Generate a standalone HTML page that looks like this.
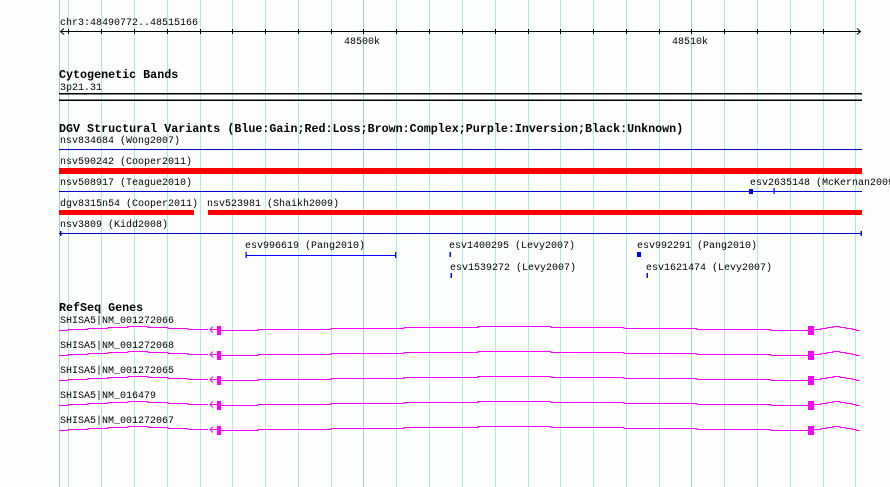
<!DOCTYPE html>
<html><head><meta charset="utf-8"><style>
html,body{margin:0;padding:0;background:#fcfffc;}
svg{display:block;}
text{font-family:"Liberation Mono",monospace;font-size:10px;fill:#000;}
.b{font-weight:bold;font-size:11.7px;}
</style></head><body>
<svg width="890" height="487" xmlns="http://www.w3.org/2000/svg">
<rect width="890" height="487" fill="#fcfffc"/>
<g stroke="#aee8ee" stroke-width="1">
<line x1="68.5" y1="0" x2="68.5" y2="487"/><line x1="101.5" y1="0" x2="101.5" y2="487"/><line x1="134.5" y1="0" x2="134.5" y2="487"/><line x1="167.5" y1="0" x2="167.5" y2="487"/><line x1="200.5" y1="0" x2="200.5" y2="487"/><line x1="232.5" y1="0" x2="232.5" y2="487"/><line x1="265.5" y1="0" x2="265.5" y2="487"/><line x1="298.5" y1="0" x2="298.5" y2="487"/><line x1="331.5" y1="0" x2="331.5" y2="487"/><line x1="396.5" y1="0" x2="396.5" y2="487"/><line x1="429.5" y1="0" x2="429.5" y2="487"/><line x1="462.5" y1="0" x2="462.5" y2="487"/><line x1="495.5" y1="0" x2="495.5" y2="487"/><line x1="528.5" y1="0" x2="528.5" y2="487"/><line x1="560.5" y1="0" x2="560.5" y2="487"/><line x1="593.5" y1="0" x2="593.5" y2="487"/><line x1="626.5" y1="0" x2="626.5" y2="487"/><line x1="659.5" y1="0" x2="659.5" y2="487"/><line x1="724.5" y1="0" x2="724.5" y2="487"/><line x1="757.5" y1="0" x2="757.5" y2="487"/><line x1="790.5" y1="0" x2="790.5" y2="487"/><line x1="823.5" y1="0" x2="823.5" y2="487"/><line x1="855.5" y1="0" x2="855.5" y2="487"/>
</g>
<g stroke="#9cd0e4" stroke-width="1">
<line x1="59.5" y1="0" x2="59.5" y2="487"/><line x1="363.5" y1="0" x2="363.5" y2="487"/><line x1="691.5" y1="0" x2="691.5" y2="487"/>
</g>
<!-- ruler -->
<text x="60" y="25">chr3:48490772..48515166</text>
<g stroke="#000" stroke-width="1" fill="none">
<line x1="60" y1="31.5" x2="861" y2="31.5"/>
<polyline points="64,28.5 60.5,31.5 64,34.5"/>
<polyline points="857,28.5 860.5,31.5 857,34.5"/>
<line x1="68.5" y1="29" x2="68.5" y2="34"/><line x1="101.5" y1="29" x2="101.5" y2="34"/><line x1="134.5" y1="29" x2="134.5" y2="34"/><line x1="167.5" y1="29" x2="167.5" y2="34"/><line x1="200.5" y1="29" x2="200.5" y2="34"/><line x1="232.5" y1="29" x2="232.5" y2="34"/><line x1="265.5" y1="29" x2="265.5" y2="34"/><line x1="298.5" y1="29" x2="298.5" y2="34"/><line x1="331.5" y1="29" x2="331.5" y2="34"/><line x1="363.5" y1="29" x2="363.5" y2="34"/><line x1="396.5" y1="29" x2="396.5" y2="34"/><line x1="429.5" y1="29" x2="429.5" y2="34"/><line x1="462.5" y1="29" x2="462.5" y2="34"/><line x1="495.5" y1="29" x2="495.5" y2="34"/><line x1="528.5" y1="29" x2="528.5" y2="34"/><line x1="560.5" y1="29" x2="560.5" y2="34"/><line x1="593.5" y1="29" x2="593.5" y2="34"/><line x1="626.5" y1="29" x2="626.5" y2="34"/><line x1="659.5" y1="29" x2="659.5" y2="34"/><line x1="691.5" y1="29" x2="691.5" y2="34"/><line x1="724.5" y1="29" x2="724.5" y2="34"/><line x1="757.5" y1="29" x2="757.5" y2="34"/><line x1="790.5" y1="29" x2="790.5" y2="34"/><line x1="823.5" y1="29" x2="823.5" y2="34"/>
</g>
<text x="344" y="44">48500k</text>
<text x="672" y="44">48510k</text>
<!-- cyto -->
<text class="b" x="59" y="78">Cytogenetic Bands</text>
<text x="60" y="90">3p21.31</text>
<rect x="59" y="93" width="803" height="1.5" fill="#000"/>
<rect x="59" y="99.5" width="803" height="1.5" fill="#000"/>
<!-- DGV -->
<text class="b" x="59" y="132">DGV Structural Variants (Blue:Gain;Red:Loss;Brown:Complex;Purple:Inversion;Black:Unknown)</text>
<text x="60" y="143">nsv834684 (Wong2007)</text>
<rect x="59" y="149" width="803" height="1" fill="#0000cc"/>
<text x="60" y="164">nsv590242 (Cooper2011)</text>
<rect x="59" y="168" width="803" height="6" fill="#ff0000"/>
<text x="60" y="185">nsv508917 (Teague2010)</text>
<rect x="59" y="191" width="803" height="1" fill="#0000cc"/>
<text x="750" y="185">esv2635148 (McKernan2009)</text>
<rect x="749" y="189" width="4" height="5" fill="#0000ff"/>
<rect x="753" y="191" width="21" height="1" fill="#0000ff"/>
<rect x="773.5" y="188" width="1.2" height="6" fill="#0000ff"/>
<text x="60" y="206">dgv8315n54 (Cooper2011)</text>
<text x="207" y="206">nsv523981 (Shaikh2009)</text>
<rect x="59" y="210" width="135" height="5" fill="#ff0000"/>
<rect x="208" y="210" width="654" height="5" fill="#ff0000"/>
<text x="60" y="227">nsv3809 (Kidd2008)</text>
<rect x="59" y="233" width="803" height="1" fill="#0000cc"/>
<rect x="60" y="231" width="1.5" height="5" fill="#0000ff"/>
<rect x="860.5" y="231" width="1.5" height="5" fill="#0000ff"/>
<text x="245" y="248">esv996619 (Pang2010)</text>
<rect x="246" y="255" width="150" height="1" fill="#0000ff"/>
<rect x="245.5" y="252" width="1.3" height="6" fill="#0000ff"/>
<rect x="395" y="252" width="1.3" height="6" fill="#0000ff"/>
<text x="449" y="248">esv1400295 (Levy2007)</text>
<rect x="449.5" y="252" width="1.5" height="5" fill="#0000ff"/>
<text x="450" y="270">esv1539272 (Levy2007)</text>
<rect x="450.5" y="273" width="1.5" height="5" fill="#0000ff"/>
<text x="637" y="248">esv992291 (Pang2010)</text>
<rect x="637" y="252" width="4" height="5" fill="#0000ff"/>
<text x="646" y="270">esv1621474 (Levy2007)</text>
<rect x="646.5" y="273" width="1.5" height="5" fill="#0000ff"/>
<!-- RefSeq -->
<text class="b" x="59" y="311">RefSeq Genes</text>
<defs>
<g id="gene" fill="none" stroke="#ff00ff" stroke-width="1" shape-rendering="crispEdges">
<polyline points="59,330.5 68,330.5 68,329.5 88,329.5 88,328.5 108,328.5 108,327.5 128,327.5 128,326.5 148,326.5 148,327.5 168,327.5 168,328.5 188,328.5 188,329.5 208,329.5"/>
<polyline points="213,326.5 210,329.5 213,332.5" shape-rendering="auto"/>
<line x1="210" y1="329.5" x2="217" y2="329.5"/>
<polyline points="221,330.5 258,330.5 258,329.5 331,329.5 331,328.5 404,328.5 404,327.5 478,327.5 478,326.5 551,326.5 551,327.5 624,327.5 624,328.5 697,328.5 697,329.5 771,329.5 771,330.5 808,330.5"/>
<polyline points="814,329.5 821,329.5 821,328.5 827,328.5 827,327.5 833,327.5 833,326.5 840,326.5 840,327.5 846,327.5 846,328.5 852,328.5 852,329.5 856,329.5 856,330.5 860,330.5"/>
</g>
</defs>
<g id="g1">
<use href="#gene"/>
<rect x="217" y="326" width="4" height="9" fill="#ff00ff"/>
<rect x="808" y="326" width="6" height="9" fill="#ff00ff"/>
</g>
<use href="#g1" transform="translate(0,25)"/>
<use href="#g1" transform="translate(0,50)"/>
<use href="#g1" transform="translate(0,75)"/>
<use href="#g1" transform="translate(0,100)"/>
<text x="60" y="323">SHISA5|NM_001272066</text>
<text x="60" y="348">SHISA5|NM_001272068</text>
<text x="60" y="373">SHISA5|NM_001272065</text>
<text x="60" y="398">SHISA5|NM_016479</text>
<text x="60" y="423">SHISA5|NM_001272067</text>
</svg>
</body></html>
